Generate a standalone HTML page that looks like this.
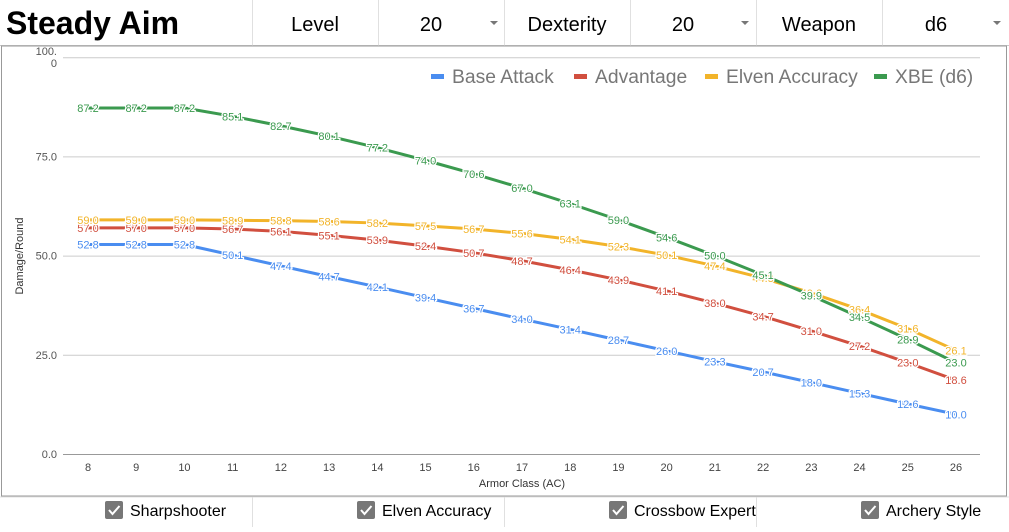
<!DOCTYPE html>
<html><head><meta charset="utf-8"><style>
body{margin:0;width:1009px;height:527px;overflow:hidden;background:#fff;font-family:"Liberation Sans",sans-serif;}
svg text{font-family:"Liberation Sans",sans-serif;}
</style></head><body>
<svg width="1009" height="527">
<g>
<rect x="0" y="0" width="1009" height="46" fill="#fff"/>
<line x1="0" y1="45.5" x2="1009" y2="45.5" stroke="#c8c8c8"/>
<text x="6" y="34" font-size="32" font-weight="bold">Steady Aim</text>
<line x1="252.5" y1="0" x2="252.5" y2="46" stroke="#e0e0e0"/>
<line x1="378.5" y1="0" x2="378.5" y2="46" stroke="#e0e0e0"/>
<line x1="504.5" y1="0" x2="504.5" y2="46" stroke="#e0e0e0"/>
<line x1="630.5" y1="0" x2="630.5" y2="46" stroke="#e0e0e0"/>
<line x1="756.5" y1="0" x2="756.5" y2="46" stroke="#e0e0e0"/>
<line x1="882.5" y1="0" x2="882.5" y2="46" stroke="#e0e0e0"/>
<text x="315" y="31" font-size="20" text-anchor="middle">Level</text>
<text x="431" y="31" font-size="20" text-anchor="middle">20</text>
<path d="M490 21 l8 0 l-4 4z" fill="#777"/>
<text x="567" y="31" font-size="20" text-anchor="middle">Dexterity</text>
<text x="683" y="31" font-size="20" text-anchor="middle">20</text>
<path d="M741 21 l8 0 l-4 4z" fill="#777"/>
<text x="819" y="31" font-size="20" text-anchor="middle">Weapon</text>
<text x="936" y="31" font-size="20" text-anchor="middle">d6</text>
<path d="M993 21 l8 0 l-4 4z" fill="#777"/>
</g>
<rect x="1.5" y="46" width="1005" height="450" fill="none" stroke="#999"/>
<g id="chart"></g>
<g>
<line x1="0" y1="497" x2="1009" y2="497" stroke="#e0e0e0"/>
<line x1="252.5" y1="497" x2="252.5" y2="527" stroke="#e0e0e0"/>
<line x1="504.5" y1="497" x2="504.5" y2="527" stroke="#e0e0e0"/>
<line x1="756.5" y1="497" x2="756.5" y2="527" stroke="#e0e0e0"/>
<g><rect x="105" y="501" width="18" height="18" rx="2" fill="#777"/><path d="M109 510 l3.5 4 l7 -8" stroke="#fff" stroke-width="2" fill="none"/><text x="130" y="516" font-size="16">Sharpshooter</text></g>
<g><rect x="357" y="501" width="18" height="18" rx="2" fill="#777"/><path d="M361 510 l3.5 4 l7 -8" stroke="#fff" stroke-width="2" fill="none"/><text x="382" y="516" font-size="16">Elven Accuracy</text></g>
<g><rect x="609" y="501" width="18" height="18" rx="2" fill="#777"/><path d="M613 510 l3.5 4 l7 -8" stroke="#fff" stroke-width="2" fill="none"/><text x="634" y="516" font-size="16">Crossbow Expert</text></g>
<g><rect x="861" y="501" width="18" height="18" rx="2" fill="#777"/><path d="M865 510 l3.5 4 l7 -8" stroke="#fff" stroke-width="2" fill="none"/><text x="886" y="516" font-size="16">Archery Style</text></g>
</g>
</svg>
<script>
const categories=[8,9,10,11,12,13,14,15,16,17,18,19,20,21,22,23,24,25,26];
const baseAttack=[52.8,52.8,52.8,50.1,47.4,44.7,42.1,39.4,36.7,34.0,31.4,28.7,26.0,23.3,20.7,18.0,15.3,12.6,10.0];
const advantage=[57.0,57.0,57.0,56.7,56.1,55.1,53.9,52.4,50.7,48.7,46.4,43.9,41.1,38.0,34.7,31.0,27.2,23.0,18.6];
const elvenAccuracy=[59.0,59.0,59.0,58.9,58.8,58.6,58.2,57.5,56.7,55.6,54.1,52.3,50.1,47.4,44.3,40.6,36.4,31.6,26.1];
const xbe=[87.2,87.2,87.2,85.1,82.7,80.1,77.2,74.0,70.6,67.0,63.1,59.0,54.6,50.0,45.1,39.9,34.5,28.9,23.0];
const yTicks=[0,25,50,75,100];
const yTickLabels=["0.0","25.0","50.0","75.0","100.0"];
const seriesNames=["Base Attack","Advantage","Elven Accuracy","XBE (d6)"];
const seriesColors=["#4a8df0","#d14f3f","#f2b42a","#3b9a4f"];
const seriesData=[baseAttack,advantage,elvenAccuracy,xbe];

const NS="http://www.w3.org/2000/svg";
const g=document.getElementById('chart');
const X0=88,X1=956,Y0=454,Y100=57.2;
const xs=i=>X0+(X1-X0)*i/(categories.length-1);
const ys=v=>Y0-(Y0-Y100)*v/100;
function mk(t,a,p){const e=document.createElementNS(NS,t);for(const k in a)e.setAttribute(k,a[k]);(p||g).appendChild(e);return e;}
yTicks.forEach((v,i)=>{
  const l=mk('line',{x1:63,x2:980,y1:ys(v)+0.5,y2:ys(v)+0.5,stroke:i===0?'#999':'#ccc'});
  
  
  if(v===100){
    const t=mk('text',{x:57,y:ys(v)-2,'font-size':11,fill:'#555','text-anchor':'end'});t.textContent='100.';
    
    
    const t2=mk('text',{x:57,y:ys(v)+10,'font-size':11,fill:'#555','text-anchor':'end'});t2.textContent='0';
  }else{
    const t=mk('text',{x:57,y:ys(v)+4,'font-size':11,fill:'#555','text-anchor':'end'});t.textContent=yTickLabels[i];
    
    
  }
});
categories.forEach((c,i)=>{
  const t=mk('text',{x:xs(i),y:471,'font-size':11,fill:'#444','text-anchor':'middle'});t.textContent=c;
  
  
});
const xt=mk('text',{x:522,y:487,'font-size':11,fill:'#333','text-anchor':'middle'});xt.textContent='Armor Class (AC)';


const yt=mk('text',{x:23,y:256,'font-size':11,fill:'#333','text-anchor':'middle',transform:'rotate(-90 23 256)'});yt.textContent='Damage/Round';


seriesData.forEach((d,s)=>{
  const pl=mk('polyline',{points:d.map((v,i)=>xs(i)+','+ys(v)).join(' '),fill:'none',stroke:seriesColors[s],'stroke-width':3,'stroke-linejoin':'round'});
  
  
});
seriesData.forEach((d,s)=>{
  d.forEach((v,i)=>{
    const t=mk('text',{x:xs(i),y:ys(v)+4,'font-size':11,fill:seriesColors[s],'text-anchor':'middle',stroke:'#fff','stroke-width':2.5,'paint-order':'stroke'});
    t.textContent=v.toFixed(1);
    
    
  });
});
const lx=[431,574,705,874];
seriesNames.forEach((n,s)=>{
  const r=mk('rect',{x:lx[s],y:74,width:13,height:5,fill:seriesColors[s]});
  
  
  const t=mk('text',{x:lx[s]+21,y:83,'font-size':19.3,fill:'#777'});t.textContent=n;
  
  
});
</script>
</body></html>
